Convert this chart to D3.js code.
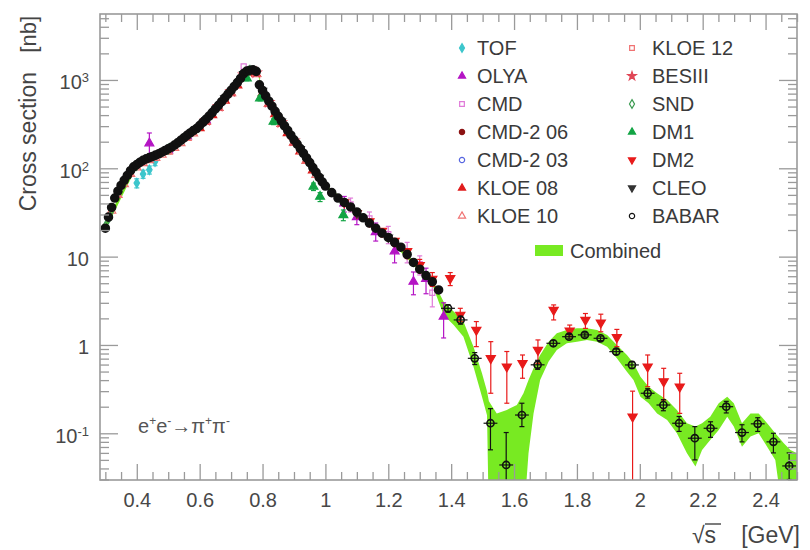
<!DOCTYPE html>
<html>
<head>
<meta charset="utf-8">
<script src="https://cdn.jsdelivr.net/npm/d3@7"></script>
<style>
  body { margin: 0; background: #fff; }
  svg { font-family: "Liberation Sans", Arial, Helvetica, sans-serif; }
</style>
</head>
<body>
<svg id="chart" width="810" height="550"></svg>
<script>
// ---- data: [sqrt(s) GeV, sigma nb, (err low, err high)] ----
const tof = [[0.40, 68, 60, 76], [0.42, 86, 77, 95], [0.44, 96, 86, 106], [0.458, 119, 107, 131]];
const olya = [[0.44, 192, 142, 251], [0.50, 160], [0.56, 230], [0.62, 350],
  [1.06, 40, 32, 48], [1.10, 28, 23, 33], [1.16, 19, 15, 24], [1.22, 11.5, 8.5, 14.5],
  [1.28, 5.2, 3.7, 6.7], [1.32, 5.6, 3.8, 7.4], [1.376, 2.1, 1.2, 3.0]];
const cmd = [[0.66, 500], [0.74, 1420], [1.08, 39, 32, 46], [1.14, 27, 22, 32],
  [1.20, 18, 14, 22], [1.26, 11.5, 8.5, 14.5], [1.30, 8.2, 6.2, 10.2], [1.34, 3.9, 2.7, 5.1]];
const cmd2_06 = [[0.38, 90], [0.42, 120], [0.46, 138], [0.50, 162], [0.54, 204], [0.58, 262],
  [0.62, 352], [0.66, 508], [0.70, 752], [0.74, 1160], [0.76, 1275], [0.78, 1230], [0.80, 750],
  [0.84, 436], [0.88, 264], [0.92, 164], [0.96, 100], [1.02, 52], [1.06, 40], [1.10, 31],
  [1.14, 23.5], [1.18, 18], [1.22, 14], [1.26, 10.2], [1.30, 7], [1.34, 5]];
const cmd2_03 = [[0.61, 325], [0.65, 465], [0.69, 688], [0.73, 1030], [0.77, 1290], [0.81, 655],
  [0.85, 385], [0.89, 235], [0.93, 147], [0.96, 101]];
const kloe08 = [[0.60, 285], [0.62, 335], [0.64, 400], [0.66, 482], [0.68, 585], [0.70, 712],
  [0.72, 870], [0.74, 1100], [0.76, 1210], [0.78, 1170], [0.80, 705], [0.82, 535], [0.84, 412],
  [0.86, 318], [0.88, 250], [0.90, 196], [0.92, 156], [0.94, 122], [0.96, 95]];
const kloe10 = [[0.32, 33], [0.34, 50], [0.36, 66], [0.38, 86], [0.40, 102], [0.42, 114],
  [0.44, 123], [0.46, 131], [0.48, 142], [0.50, 154], [0.52, 170], [0.54, 192], [0.56, 220],
  [0.58, 248], [0.62, 335], [0.66, 480], [0.70, 710], [0.74, 1090], [0.78, 1160], [0.82, 535],
  [0.86, 318], [0.90, 195], [0.94, 122], [0.97, 84]];
const kloe12 = [[0.34, 51], [0.38, 87], [0.44, 124], [0.50, 155], [0.56, 221], [0.62, 336],
  [0.68, 586], [0.74, 1095], [0.80, 708], [0.86, 320], [0.92, 157]];
const besiii = [[0.62, 350], [0.66, 505], [0.70, 745], [0.74, 1150], [0.78, 1210], [0.82, 560],
  [0.86, 330], [0.90, 205]];
const snd = [[0.30, 22], [0.31, 27], [0.32, 34], [0.40, 108], [0.50, 165], [0.60, 300],
  [0.70, 755], [0.76, 1280], [0.80, 745], [0.90, 208], [0.97, 89]];
const dm1 = [[0.750, 1045, 980, 1110], [0.792, 621, 580, 662], [0.835, 337, 312, 362],
  [0.962, 62, 56, 68], [0.983, 47.7, 42, 53], [1.057, 29.6, 25.5, 33.7]];
const dm2 = [[1.06, 41], [1.10, 31], [1.14, 25], [1.18, 19.5], [1.22, 15], [1.26, 11.5],
  [1.30, 8, 6.8, 9.3], [1.34, 5.6, 4.6, 6.6],
  [1.397, 5.68, 4.7, 6.6], [1.429, 2.19, 1.85, 2.6], [1.480, 1.48, 0.957, 1.84],
  [1.526, 0.706, 0.284, 1.09], [1.577, 0.568, 0.219, 0.843], [1.627, 0.62, 0.42, 0.77],
  [1.676, 0.878, 0.62, 1.14], [1.726, 2.49, 1.92, 2.84], [1.777, 1.45, 1.24, 1.68],
  [1.827, 1.92, 1.54, 2.27], [1.876, 1.79, 1.41, 2.23], [1.927, 1.22, 0.957, 1.5],
  [1.977, 0.154, 0.01, 0.30], [2.025, 0.568, 0.337, 0.77], [2.076, 0.386, 0.238, 0.544],
  [2.127, 0.337, 0.168, 0.478]];
const cleo = [[0.62, 352], [0.68, 620], [0.74, 1170], [0.80, 755], [0.86, 338], [0.92, 165],
  [0.98, 78], [1.10, 31], [1.20, 16.5]];
const babar = [
  [0.30, 21], [0.31, 28], [0.32, 36], [0.33, 46], [0.34, 55], [0.35, 64], [0.36, 73], [0.37, 83],
  [0.38, 94], [0.39, 104], [0.40, 110], [0.41, 117], [0.42, 123], [0.43, 128], [0.44, 132],
  [0.45, 136], [0.46, 141], [0.47, 146], [0.48, 152], [0.49, 159], [0.50, 166], [0.51, 173],
  [0.52, 183], [0.53, 194], [0.54, 207], [0.55, 221], [0.56, 236], [0.57, 251], [0.58, 267],
  [0.59, 282], [0.60, 305], [0.61, 330], [0.62, 358], [0.63, 390], [0.64, 428], [0.65, 470],
  [0.66, 516], [0.67, 568], [0.68, 627], [0.69, 692], [0.70, 762], [0.71, 845], [0.72, 935],
  [0.73, 1040], [0.74, 1180], [0.75, 1260], [0.76, 1290], [0.77, 1300], [0.78, 1250],
  [0.79, 880], [0.80, 760], [0.81, 660], [0.82, 575], [0.83, 505], [0.84, 442], [0.85, 388],
  [0.86, 342], [0.87, 302], [0.88, 268], [0.89, 237], [0.90, 210], [0.91, 188], [0.92, 167],
  [0.93, 148], [0.94, 131], [0.95, 116], [0.96, 102], [0.97, 90], [0.98, 79], [0.99, 70],
  [1.00, 63], [1.02, 53], [1.04, 46], [1.06, 41], [1.08, 36.5], [1.10, 32], [1.12, 27.5],
  [1.14, 24], [1.16, 21], [1.18, 18.5], [1.20, 16.5], [1.22, 14.5], [1.24, 12.8], [1.26, 10.6],
  [1.28, 8.6], [1.30, 7.2], [1.32, 6.1], [1.34, 5.2], [1.36, 4.2],
  [1.39, 2.6, 2.35, 2.85], [1.43, 1.92, 1.72, 2.12], [1.475, 0.706, 0.6, 0.82],
  [1.525, 0.130, 0.065, 0.19], [1.575, 0.0438, 0.01, 0.102], [1.625, 0.161, 0.119, 0.219],
  [1.675, 0.596, 0.53, 0.67], [1.725, 1.045, 0.97, 1.12], [1.775, 1.24, 1.17, 1.31],
  [1.825, 1.30, 1.23, 1.37], [1.875, 1.19, 1.12, 1.26], [1.925, 0.84, 0.78, 0.9],
  [1.975, 0.594, 0.54, 0.65], [2.025, 0.284, 0.25, 0.32], [2.075, 0.209, 0.18, 0.24],
  [2.125, 0.130, 0.105, 0.155], [2.175, 0.088, 0.05, 0.119], [2.225, 0.114, 0.09, 0.135],
  [2.275, 0.200, 0.17, 0.23], [2.325, 0.102, 0.08, 0.125], [2.375, 0.128, 0.105, 0.15],
  [2.425, 0.080, 0.06, 0.1], [2.475, 0.0427, 0.03, 0.06]];

// combined band
const bandX = [0.30, 0.40, 0.50, 0.60, 0.70, 0.75, 0.77, 0.785, 0.795, 0.80, 0.90, 1.00, 1.10, 1.20,
  1.30, 1.34, 1.376, 1.408, 1.439, 1.471, 1.498, 1.514, 1.520, 1.545, 1.577, 1.609, 1.630, 1.646,
  1.662, 1.683, 1.710, 1.736, 1.768, 1.800, 1.832, 1.864, 1.896, 1.927, 1.959, 1.980, 2.002, 2.028,
  2.055, 2.087, 2.118, 2.150, 2.177, 2.198, 2.224, 2.251, 2.278, 2.299, 2.325, 2.352, 2.378, 2.405,
  2.431, 2.458, 2.479, 2.50];
const bandLo = [20, 104, 160, 292, 735, 1215, 1255, 1170, 840, 725, 202, 60, 30.5, 15.7,
  6.8, 4.8, 2.19, 1.68, 1.24, 0.568, 0.26, 0.16, 0.01, 0.01, 0.01, 0.01, 0.01, 0.0594,
  0.168, 0.402, 0.648, 0.878, 1.044, 1.09, 1.14, 1.09, 0.957, 0.706, 0.499, 0.402, 0.26, 0.219,
  0.168, 0.1416, 0.100, 0.0594, 0.042, 0.0648, 0.084, 0.109, 0.154, 0.119, 0.0706, 0.0917, 0.100, 0.0706,
  0.0499, 0.01, 0.01, 0.01];
const bandHi = [24, 114, 172, 315, 785, 1300, 1340, 1290, 920, 790, 218, 66, 33.5, 17.3,
  7.6, 5.5, 3.09, 2.39, 1.84, 0.957, 0.478, 0.30, 0.23, 0.168, 0.184, 0.209, 0.284, 0.402,
  0.544, 0.770, 1.09, 1.355, 1.48, 1.544, 1.544, 1.48, 1.30, 1.0, 0.770, 0.620, 0.438, 0.337,
  0.284, 0.238, 0.184, 0.130, 0.119, 0.130, 0.154, 0.219, 0.260, 0.219, 0.130, 0.168, 0.168, 0.130,
  0.100, 0.077, 0.0648, 0.0594];

const xMajor = [0.4, 0.6, 0.8, 1, 1.2, 1.4, 1.6, 1.8, 2, 2.2, 2.4];
const yMajor = [0.1, 1, 10, 100, 1000];
const yTickLabels = [["10", "-1"], ["1", ""], ["10", ""], ["10", "2"], ["10", "3"]];

const legendLeft = ["TOF", "OLYA", "CMD", "CMD-2 06", "CMD-2 03", "KLOE 08", "KLOE 10"];
const legendRight = ["KLOE 12", "BESIII", "SND", "DM1", "DM2", "CLEO", "BABAR"];

// ---- layout ----
const plot = { left: 100, right: 797, top: 14, bottom: 480 };
const svg = d3.select("#chart");
const font = '"Liberation Sans", Arial, Helvetica, sans-serif';

const x = d3.scaleLinear().domain([0.283, 2.5]).range([plot.left, plot.right]);
const y = d3.scaleLog().domain([0.0296, 5580]).range([plot.bottom, plot.top]);

const xMinor = d3.range(6, 51).map((i) => i * 0.05).filter((v) => !xMajor.some((m) => Math.abs(m - v) < 1e-6));
const yMinor = [];
for (let e = -2; e <= 3; e++) {
  for (let k = 2; k <= 9; k++) {
    const v = k * Math.pow(10, e);
    if (v > 0.0296 && v < 5580) yMinor.push(v);
  }
}

svg.append("defs").append("clipPath").attr("id", "clip")
  .append("rect")
  .attr("x", plot.left).attr("y", plot.top)
  .attr("width", plot.right - plot.left).attr("height", plot.bottom - plot.top);

const inner = svg.append("g").attr("clip-path", "url(#clip)");

// combined band
const bandRows = bandX.map((v, i) => ({ x: v, lo: bandLo[i], hi: bandHi[i] }));
inner.append("path")
  .datum(bandRows)
  .attr("fill", "#78ea22")
  .attr("d", d3.area()
    .x((d) => x(d.x))
    .y0((d) => y(Math.max(d.lo, 0.005)))
    .y1((d) => y(d.hi)));

// experiments, drawn in legend order
const down = "rotate(180)";
const experiments = [
  { name: "TOF", data: tof, type: d3.symbolDiamond, color: "#3cc6cc", open: false, size: 26 },
  { name: "OLYA", data: olya, type: d3.symbolTriangle, color: "#b414c4", open: false, size: 34 },
  { name: "CMD", data: cmd, type: d3.symbolSquare, color: "#e07ad8", open: true, size: 26 },
  { name: "CMD-2 06", data: cmd2_06, type: d3.symbolCircle, color: "#8c1212", open: false, size: 30 },
  { name: "CMD-2 03", data: cmd2_03, type: d3.symbolCircle, color: "#5564e0", open: true, size: 26 },
  { name: "KLOE 08", data: kloe08, type: d3.symbolTriangle, color: "#e01c1c", open: false, size: 34 },
  { name: "KLOE 10", data: kloe10, type: d3.symbolTriangle, color: "#f07272", open: true, size: 30 },
  { name: "KLOE 12", data: kloe12, type: d3.symbolSquare, color: "#f07272", open: true, size: 24 },
  { name: "BESIII", data: besiii, type: d3.symbolStar, color: "#e04656", open: false, size: 30 },
  { name: "SND", data: snd, type: d3.symbolDiamond, color: "#3a9a50", open: true, size: 28 },
  { name: "DM1", data: dm1, type: d3.symbolTriangle, color: "#12a444", open: false, size: 34 },
  { name: "DM2", data: dm2, type: d3.symbolTriangle, color: "#e81a1a", open: false, size: 36, rot: down },
  { name: "CLEO", data: cleo, type: d3.symbolTriangle, color: "#333333", open: false, size: 30, rot: down },
  { name: "BABAR", data: babar, type: d3.symbolCircle, color: "#111111", open: true, size: 40, xerr: 0.022, dense: true },
];

experiments.forEach((ex) => {
  const g = inner.append("g");
  const withErr = ex.data.filter((d) => d.length > 2);

  g.selectAll(".ebar")
    .data(withErr)
    .join("line")
    .attr("x1", (d) => x(d[0])).attr("x2", (d) => x(d[0]))
    .attr("y1", (d) => y(d[2])).attr("y2", (d) => y(d[3]))
    .attr("stroke", ex.color).attr("stroke-width", 1.2);

  g.selectAll(".cap")
    .data(withErr.flatMap((d) => [[d[0], d[2]], [d[0], d[3]]]))
    .join("line")
    .attr("x1", (d) => x(d[0]) - 2.5).attr("x2", (d) => x(d[0]) + 2.5)
    .attr("y1", (d) => y(d[1])).attr("y2", (d) => y(d[1]))
    .attr("stroke", ex.color).attr("stroke-width", 1.2);

  if (ex.xerr) {
    g.selectAll(".xbar")
      .data(withErr)
      .join("line")
      .attr("x1", (d) => x(d[0] - ex.xerr)).attr("x2", (d) => x(d[0] + ex.xerr))
      .attr("y1", (d) => y(d[1])).attr("y2", (d) => y(d[1]))
      .attr("stroke", ex.color).attr("stroke-width", 1.2);
  }

  // densely packed BABAR points overlap into a solid black band, as in the picture
  const isDense = (d) => ex.dense && d.length === 2;
  g.selectAll(".pt")
    .data(ex.data)
    .join("path")
    .attr("transform", (d) => `translate(${x(d[0])},${y(d[1])})${ex.rot ? " " + ex.rot : ""}`)
    .attr("d", (d) => d3.symbol().type(ex.type).size(isDense(d) ? 38 : ex.size)())
    .attr("fill", (d) => (ex.open && !isDense(d) ? "none" : ex.color))
    .attr("stroke", ex.color)
    .attr("stroke-width", (d) => (isDense(d) ? 2.6 : ex.dense ? 1.6 : 1.2));
});

// ---- axes (ticks inside on all four sides) ----
const tickColor = "#9a9a9a";
function styleAxis(g) {
  g.select(".domain").remove();
  g.selectAll(".tick line").attr("stroke", tickColor).attr("stroke-width", 1.3);
  g.attr("font-family", font).attr("font-size", 20);
  g.selectAll(".tick text").attr("fill", "#474747");
}

svg.append("g").attr("transform", `translate(0,${plot.bottom})`)
  .call(d3.axisBottom(x).tickValues(xMajor).tickSize(-16).tickPadding(13).tickFormat(d3.format("~g")))
  .call(styleAxis);
svg.append("g").attr("transform", `translate(0,${plot.bottom})`)
  .call(d3.axisBottom(x).tickValues(xMinor).tickSize(-8).tickFormat(""))
  .call(styleAxis);
svg.append("g").attr("transform", `translate(0,${plot.top})`)
  .call(d3.axisTop(x).tickValues(xMajor).tickSize(-16).tickFormat(""))
  .call(styleAxis);
svg.append("g").attr("transform", `translate(0,${plot.top})`)
  .call(d3.axisTop(x).tickValues(xMinor).tickSize(-8).tickFormat(""))
  .call(styleAxis);

svg.append("g").attr("transform", `translate(${plot.left},0)`)
  .call(d3.axisLeft(y).tickValues(yMajor).tickSize(-18).tickPadding(11).tickFormat(""))
  .call(styleAxis)
  .selectAll(".tick text")
  .each(function (d, i) {
    const t = d3.select(this).attr("dy", "0.45em");
    t.append("tspan").text(yTickLabels[i][0]);
    if (yTickLabels[i][1]) {
      t.append("tspan").attr("dy", "-0.55em").attr("font-size", 13).text(yTickLabels[i][1]);
    }
  });
svg.append("g").attr("transform", `translate(${plot.left},0)`)
  .call(d3.axisLeft(y).tickValues(yMinor).tickSize(-9).tickFormat(""))
  .call(styleAxis);
svg.append("g").attr("transform", `translate(${plot.right},0)`)
  .call(d3.axisRight(y).tickValues(yMajor).tickSize(-18).tickFormat(""))
  .call(styleAxis);
svg.append("g").attr("transform", `translate(${plot.right},0)`)
  .call(d3.axisRight(y).tickValues(yMinor).tickSize(-9).tickFormat(""))
  .call(styleAxis);

svg.append("rect")
  .attr("x", plot.left).attr("y", plot.top)
  .attr("width", plot.right - plot.left).attr("height", plot.bottom - plot.top)
  .attr("fill", "none").attr("stroke", tickColor).attr("stroke-width", 1.6);

// ---- axis titles ----
svg.append("text")
  .attr("transform", "translate(36,72) rotate(-90)")
  .attr("text-anchor", "end")
  .attr("font-size", 23).attr("fill", "#444")
  .text("Cross section");
svg.append("text")
  .attr("transform", "translate(36,16) rotate(-90)")
  .attr("text-anchor", "end")
  .attr("font-size", 22).attr("fill", "#444")
  .text("[nb]");

svg.append("text")
  .attr("x", 692).attr("y", 543)
  .attr("font-size", 23).attr("fill", "#444")
  .text("√s");
svg.append("line")
  .attr("x1", 705).attr("x2", 721).attr("y1", 524).attr("y2", 524)
  .attr("stroke", "#444").attr("stroke-width", 1.4);
svg.append("text")
  .attr("x", 800).attr("y", 543)
  .attr("text-anchor", "end")
  .attr("font-size", 23).attr("fill", "#444")
  .text("[GeV]");

// ---- process label ----
const proc = svg.append("text")
  .attr("x", 138).attr("y", 433)
  .attr("font-size", 20).attr("fill", "#555");
[["e", ""], ["+", "sup"], ["e", "base"], ["-", "sup"], ["→", "base"], ["π", ""], ["+", "sup"], ["π", "base"], ["-", "sup"]]
  .forEach(([s, k]) => {
    const sp = proc.append("tspan").text(s);
    if (k === "sup") sp.attr("dy", -8).attr("font-size", 12);
    if (k === "base") sp.attr("dy", 8);
  });

// ---- legend ----
const legend = svg.append("g").attr("font-family", font).attr("font-size", 20).attr("fill", "#3a3a3a");
const rowY = (i) => 48 + i * 28;
[[legendLeft, 462, 477], [legendRight, 632, 652]].forEach(([names, mx, tx]) => {
  names.forEach((name, i) => {
    const ex = experiments.find((e) => e.name === name);
    legend.append("path")
      .attr("transform", `translate(${mx},${rowY(i)})${ex.rot ? " " + ex.rot : ""}`)
      .attr("d", d3.symbol().type(ex.type).size(22)())
      .attr("fill", ex.open ? "none" : ex.color)
      .attr("stroke", ex.color)
      .attr("stroke-width", 1.2);
    legend.append("text").attr("x", tx).attr("y", rowY(i) + 7).text(name);
  });
});
legend.append("rect")
  .attr("x", 535).attr("y", 245).attr("width", 28).attr("height", 11)
  .attr("fill", "#78ea22");
legend.append("text").attr("x", 570).attr("y", 258).text("Combined");
</script>
</body>
</html>
